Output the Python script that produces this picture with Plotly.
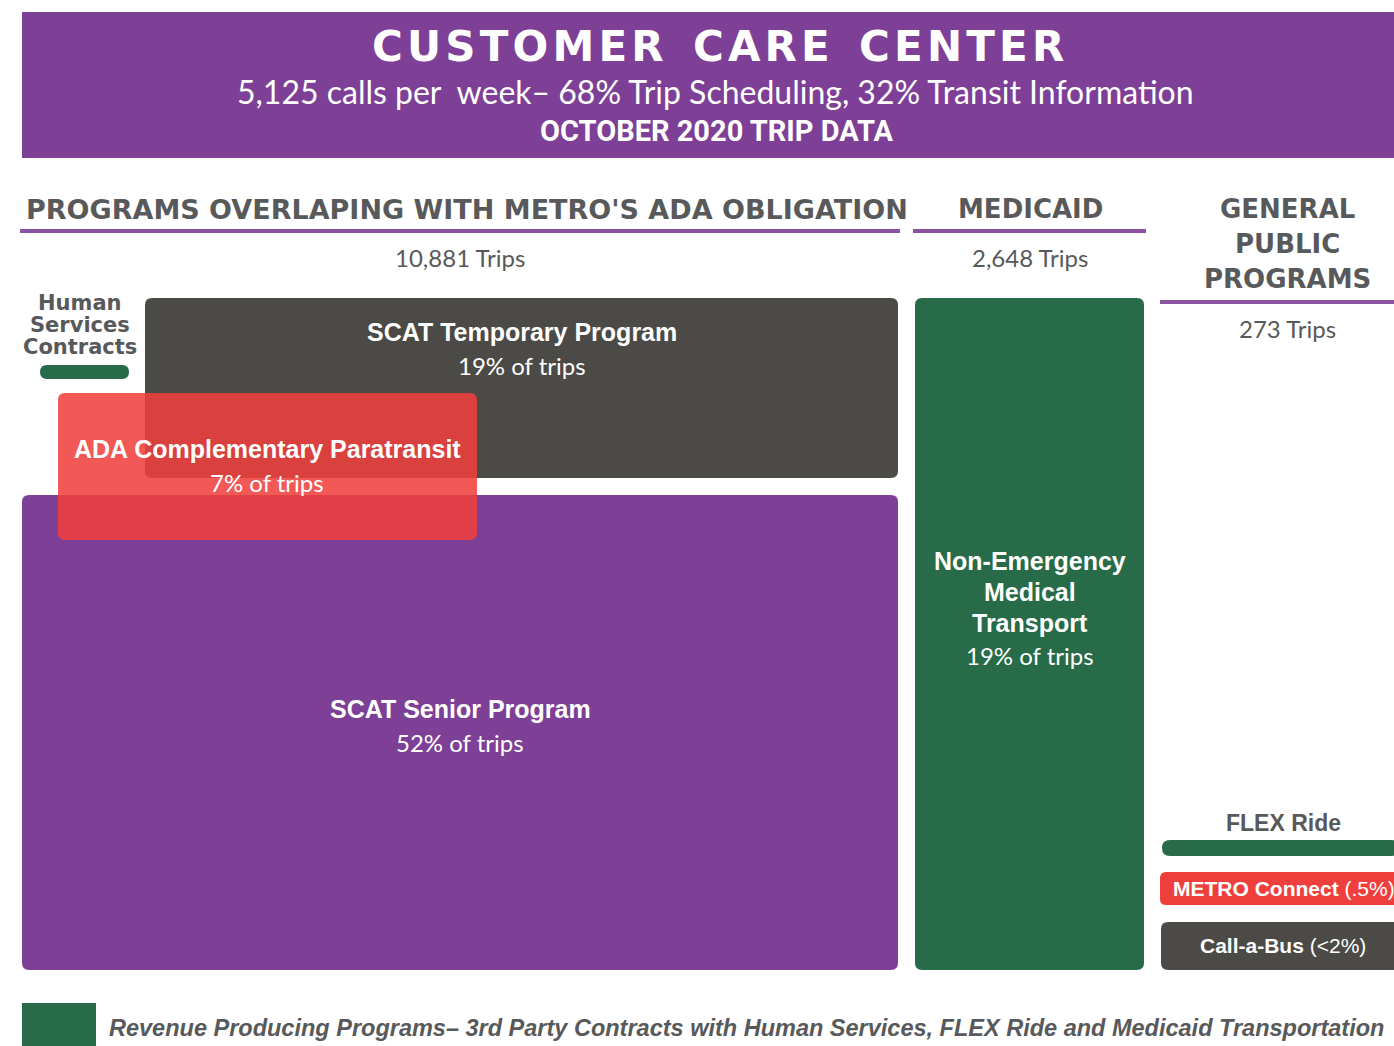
import plotly.graph_objects as go

# ---------------- data ----------------
calls_per_week = "5,125"
trip_scheduling_pct = 68
transit_info_pct = 32
period = "OCTOBER 2020 TRIP DATA"

group_names = ["PROGRAMS OVERLAPING WITH METRO'S ADA OBLIGATION", "MEDICAID", "GENERAL PUBLIC PROGRAMS"]
group_trips = ["10,881", "2,648", "273"]

program_names = ["SCAT Temporary Program", "ADA Complementary Paratransit", "SCAT Senior Program",
                 "Non-Emergency Medical Transport"]
program_pct = ["19%", "7%", "52%", "19%"]

minor_names = ["Human Services Contracts", "FLEX Ride", "METRO Connect", "Call-a-Bus"]
minor_pct = ["", "", "(.5%)", "(&lt;2%)"]

footer_text = "Revenue Producing Programs– 3rd Party Contracts with Human Services, FLEX Ride and Medicaid Transportation"

# ---------------- styles ----------------
W, H = 1394, 1046
PURPLE = "#7E3F96"
LINE_PURPLE = "#8B52A1"
DARK = "#4B4A46"
GREEN = "#276B48"
RED = "#EF3F3D"
GRAY_TXT = "#58595B"
HEAVY = "DejaVu Sans"
ARIAL = "Liberation Sans"
CALIBRI = "Lato"

shapes = []
annotations = []


def rrect(x0, y0, x1, y1, color, r=7, opacity=1.0):
    p = (f"M {x0+r},{y0} L {x1-r},{y0} Q {x1},{y0} {x1},{y0+r} "
         f"L {x1},{y1-r} Q {x1},{y1} {x1-r},{y1} L {x0+r},{y1} Q {x0},{y1} {x0},{y1-r} "
         f"L {x0},{y0+r} Q {x0},{y0} {x0+r},{y0} Z")
    shapes.append(dict(type="path", path=p, xref="x", yref="y", fillcolor=color,
                       line=dict(width=0), opacity=opacity, layer="below"))


def rect(x0, y0, x1, y1, color):
    shapes.append(dict(type="rect", x0=x0, y0=y0, x1=x1, y1=y1, xref="x", yref="y",
                       fillcolor=color, line=dict(width=0), layer="below"))


def hline(x0, x1, y, color=LINE_PURPLE, w=4):
    shapes.append(dict(type="line", x0=x0, x1=x1, y0=y, y1=y, xref="x", yref="y",
                       line=dict(color=color, width=w)))


def txt(x, y, s, size, color="white", family=ARIAL, bold=False, italic=False, xanchor="center"):
    if bold:
        s = f"<b>{s}</b>"
    if italic:
        s = f"<i>{s}</i>"
    annotations.append(dict(x=x, y=y, xref="x", yref="y", text=s, showarrow=False,
                            xanchor=xanchor, yanchor="middle",
                            font=dict(size=size, color=color, family=family)))


# header band
rect(22, 12, W, 158, PURPLE)
title = "\u200a".join("CUSTOMER CARE CENTER").replace("\u200a \u200a", "  ")
txt(718, 46, title, 42, family=HEAVY, bold=True)
txt(715, 91, f"{calls_per_week} calls per  week– {trip_scheduling_pct}% Trip Scheduling, "
             f"{transit_info_pct}% Transit Information", 32, family=CALIBRI)
txt(716, 131, period, 29, family="Roboto", bold=True)

# group headers
txt(467, 209, group_names[0], 27, GRAY_TXT, HEAVY, bold=True)
hline(20, 900, 231)
txt(460, 257, f"{group_trips[0]} Trips", 24, GRAY_TXT, CALIBRI)

txt(1030, 209, group_names[1], 26, GRAY_TXT, HEAVY, bold=True)
hline(913, 1146, 231)
txt(1030, 257, f"{group_trips[1]} Trips", 24, GRAY_TXT, CALIBRI)

for i, w in enumerate(group_names[2].split(" ")):
    txt(1287, 209 + 35 * i, w, 26, GRAY_TXT, HEAVY, bold=True)
hline(1160, W, 302)
txt(1287, 328, f"{group_trips[2]} Trips", 24, GRAY_TXT, CALIBRI)

# ADA group boxes
rrect(145, 298, 898, 478, DARK)
txt(522, 332, program_names[0], 25, bold=True)
txt(522, 365, f"{program_pct[0]} of trips", 24, family=CALIBRI)

rrect(22, 495, 898, 970, PURPLE)
txt(460, 709, program_names[2], 25, bold=True)
txt(460, 742, f"{program_pct[2]} of trips", 24, family=CALIBRI)

rrect(58, 393, 477, 540, RED, opacity=0.87)
txt(267, 449, program_names[1], 25, bold=True)
txt(267, 482, f"{program_pct[1]} of trips", 24, family=CALIBRI)

# Human services contracts
for i, w in enumerate(minor_names[0].split(" ")):
    txt(80, 303 + 22 * i, w, 21, GRAY_TXT, HEAVY, bold=True)
rrect(40, 365, 129, 379, GREEN, r=7)

# Medicaid
rrect(915, 298, 1144, 970, GREEN)
for i, w in enumerate(["Non-Emergency", "Medical", "Transport"]):
    txt(1030, 561 + 31 * i, w, 25, bold=True)
txt(1030, 655, f"{program_pct[3]} of trips", 24, family=CALIBRI)

# General public
txt(1283, 823, minor_names[1], 23, GRAY_TXT, ARIAL, bold=True)
rrect(1162, 840, 1400, 856, GREEN, r=8)
rrect(1160, 872, 1400, 905, RED, r=6)
txt(1171, 888, f"<b>{minor_names[2]}</b> {minor_pct[2]}", 21, xanchor="left")
rrect(1161, 922, 1400, 970, DARK, r=7)
txt(1283, 945, f"<b>{minor_names[3]}</b> {minor_pct[3]}", 21)

# footer
rect(22, 1003, 96, 1050, GREEN)
txt(107, 1028, footer_text, 23.5, GRAY_TXT, "Liberation Sans Narrow, Liberation Sans", bold=True,
    italic=True, xanchor="left")

fig = go.Figure()
fig.update_layout(
    width=W, height=H, margin=dict(l=0, r=0, t=0, b=0),
    paper_bgcolor="white", plot_bgcolor="white",
    xaxis=dict(range=[0, W], visible=False, fixedrange=True),
    yaxis=dict(range=[H, 0], visible=False, fixedrange=True),
    shapes=shapes, annotations=annotations, showlegend=False,
)
fig.write_html("out.html", config={"displayModeBar": False},
               post_script="document.body.style.margin='0';document.body.style.overflow='hidden';")
